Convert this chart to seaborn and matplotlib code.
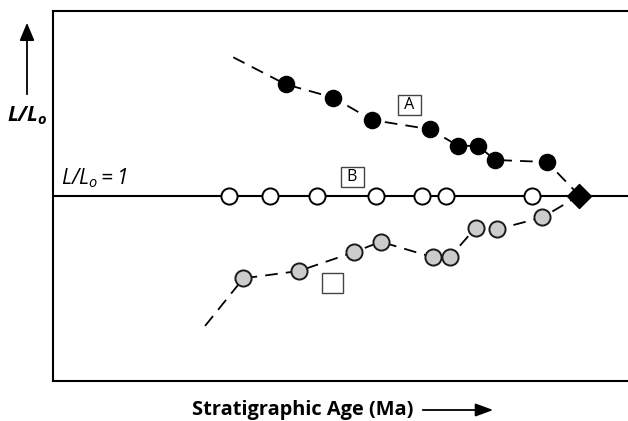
import matplotlib
matplotlib.use("Agg")
import matplotlib.pyplot as plt
import seaborn as sns
import pandas as pd

# ---- data (arbitrary units: age 0-100, L/Lo with 1 = no change) ----
a_age = [40.5, 48.8, 55.5, 65.6, 70.4, 73.9, 76.9, 85.9]
a_ratio = [1.601, 1.529, 1.408, 1.358, 1.269, 1.268, 1.192, 1.181]
a_trend_start = (31.4, 1.747)

b_age = [30.7, 37.8, 46.0, 56.2, 64.2, 68.3, 83.3]
b_ratio = [1.0, 1.0, 1.0, 1.0, 1.0, 1.0, 1.0]

c_age = [33.15, 42.8, 52.3, 57.0, 66.1, 69.0, 73.5, 77.2, 85.1]
c_ratio = [0.552, 0.592, 0.693, 0.750, 0.666, 0.666, 0.826, 0.817, 0.882]
c_trend_start = (26.5, 0.295)

end_age = 91.5
end_ratio = 1.0

label_a = ("A", 62.0, 1.489)
label_b = ("B", 52.1, 1.102)
label_c = ("", 48.6, 0.529)

FONT = ["Open Sans", "DejaVu Sans"]
plt.rcParams["font.family"] = FONT
plt.rcParams["mathtext.fontset"] = "custom"
plt.rcParams["mathtext.rm"] = "Open Sans:italic"
plt.rcParams["mathtext.it"] = "Open Sans:italic"
plt.rcParams["mathtext.bf"] = "Open Sans:bold:italic"

fig = plt.figure(figsize=(6.28, 4.21), dpi=100)
W, H = 628, 421
ax = fig.add_axes([52.5 / W, 1 - 380.5 / H, (630 - 52.5) / W, 370 / H])
ax.set_xlim(0, 100.3)
ax.set_ylim(0, 2.0)

# dashed trend lines
dfa = pd.DataFrame({"age": [a_trend_start[0]] + a_age + [end_age],
                    "ratio": [a_trend_start[1]] + a_ratio + [end_ratio]})
dfc = pd.DataFrame({"age": [c_trend_start[0]] + c_age + [end_age],
                    "ratio": [c_trend_start[1]] + c_ratio + [end_ratio]})
dash = (0, (7, 4.5))
sns.lineplot(data=dfa, x="age", y="ratio", sort=False, estimator=None, ax=ax,
             color="black", lw=1.3, linestyle=dash, zorder=2)
sns.lineplot(data=dfc, x="age", y="ratio", sort=False, estimator=None, ax=ax,
             color="black", lw=1.3, linestyle=dash, zorder=2)
# reference line L/Lo = 1
ax.axhline(1.0, color="black", lw=1.5, zorder=1)

# markers
sns.scatterplot(x=a_age, y=a_ratio, ax=ax, s=135, color="black",
                edgecolor="black", linewidth=1.0, zorder=4)
sns.scatterplot(x=b_age, y=b_ratio, ax=ax, s=135, color="white",
                edgecolor="black", linewidth=1.4, zorder=4)
sns.scatterplot(x=c_age, y=c_ratio, ax=ax, s=135, color="#cccccc",
                edgecolor="#1a1a1a", linewidth=1.4, zorder=4)
sns.scatterplot(x=[end_age], y=[end_ratio], ax=ax, s=150, marker="D",
                color="black", edgecolor="black", zorder=5)

# boxed labels
for txt, x, y in (label_a, label_b):
    ax.text(x, y, " " + txt + " ", ha="center", va="center", fontsize=11.5,
            zorder=6, fontfamily=["DejaVu Sans"] if False else FONT,
            bbox=dict(boxstyle="square,pad=0.12", fc="white", ec="#444444", lw=1.0))
ax.text(label_c[1], label_c[2], "\u2002\u2002", ha="center", va="center",
        fontsize=12, zorder=6,
        bbox=dict(boxstyle="square,pad=0.12", fc="white", ec="#444444", lw=1.0))

ax.text(1.5, 1.03, r"$L/L_o = 1$", fontsize=15, ha="left", va="bottom")

ax.spines["right"].set_visible(False)
for s in ("left", "top", "bottom"):
    ax.spines[s].set_linewidth(1.5)
ax.set_xticks([])
ax.set_yticks([])
ax.set_xlabel("")
ax.set_ylabel("")

# outside axis labels with arrows
fig.text(27 / W, 1 - 116 / H, r"$\mathbf{L/L_o}$", fontsize=15,
         ha="center", va="center")
fig.add_artist(matplotlib.patches.FancyArrowPatch(
    (27 / W, 1 - 97 / H), (27 / W, 1 - 20 / H), transform=fig.transFigure,
    arrowstyle="-|>,head_length=0.6,head_width=0.25", mutation_scale=18,
    color="black", lw=1.3))
fig.text(303 / W, 1 - 410 / H, "Stratigraphic Age (Ma)", fontsize=14.4,
         fontweight="bold", ha="center", va="center")
fig.add_artist(matplotlib.patches.FancyArrowPatch(
    (420 / W, 1 - 410 / H), (496 / W, 1 - 410 / H), transform=fig.transFigure,
    arrowstyle="-|>,head_length=0.6,head_width=0.22", mutation_scale=18,
    color="black", lw=1.3))

fig.savefig("out.png", dpi=100)
